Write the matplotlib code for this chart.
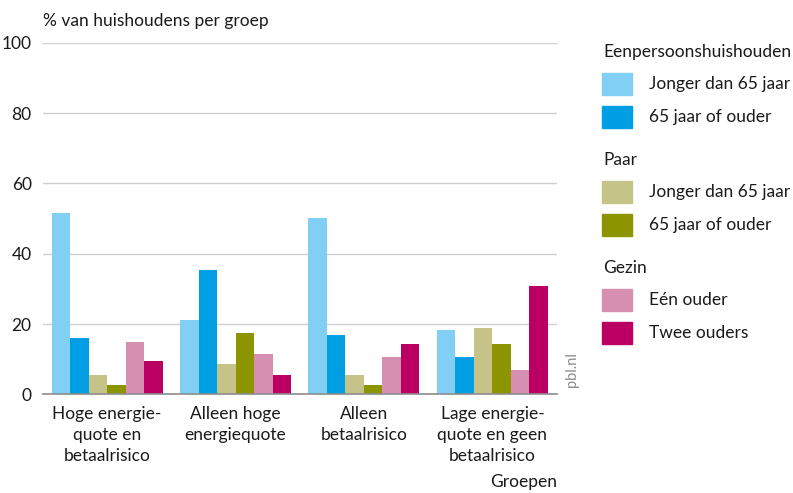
import matplotlib.pyplot as plt
from matplotlib.patches import Rectangle
import numpy as np

plt.rcParams['font.family'] = ['Lato', 'DejaVu Sans']

# Data
groups = ['Hoge energie-\nquote en\nbetaalrisico', 'Alleen hoge\nenergiequote',
          'Alleen\nbetaalrisico', 'Lage energie-\nquote en geen\nbetaalrisico']
series_labels = ['Jonger dan 65 jaar', '65 jaar of ouder',
                 'Jonger dan 65 jaar', '65 jaar of ouder',
                 'Eén ouder', 'Twee ouders']
headers = ['Eenpersoonshuishouden', 'Paar', 'Gezin']
colors = ['#82cff5', '#009fe3', '#c5c388', '#8c9400', '#d68fb0', '#bb0064']

een_jong = [51.5, 21.2, 50.1, 18.4]
een_oud = [16.1, 35.5, 16.9, 10.7]
paar_jong = [5.5, 8.7, 5.5, 19.0]
paar_oud = [2.7, 17.5, 2.7, 14.4]
gezin_een = [14.9, 11.5, 10.7, 6.9]
gezin_twee = [9.5, 5.5, 14.4, 30.9]
values = [een_jong, een_oud, paar_jong, paar_oud, gezin_een, gezin_twee]

fs = 12.5
txt = '#1a1a1a'

fig = plt.figure(figsize=(7.93, 4.93), dpi=100)
ax = fig.add_axes([0.054, 0.2, 0.648, 0.713])

x = np.arange(len(groups))
w = 0.144
for i, vals in enumerate(values):
    ax.bar(x + (i - 2.5) * w, vals, width=w, color=colors[i], zorder=3)

ax.set_xlim(-0.5, 3.5)
ax.set_ylim(0, 100)
ax.set_yticks(range(0, 101, 20))
ax.set_xticks(x)
ax.set_xticklabels(groups, fontsize=fs, color=txt, linespacing=1.42)
ax.tick_params(axis='both', length=0, labelsize=fs, colors=txt)
ax.tick_params(axis='x', pad=8)
ax.tick_params(axis='y', pad=8)
ax.grid(axis='y', color='#d0d0d0', linewidth=1, zorder=0)
for s in ['top', 'right', 'left']:
    ax.spines[s].set_visible(False)
ax.spines['bottom'].set_color('#8c8c8c')
ax.spines['bottom'].set_linewidth(1.2)
ax.spines['bottom'].set_zorder(4)

fig.text(0.054, 0.957, '% van huishoudens per groep', fontsize=fs,
         color=txt, ha='left', va='center')
fig.text(0.702, 0.022, 'Groepen', fontsize=fs, color=txt,
         ha='right', va='center')
fig.text(0.7215, 0.25, 'pbl.nl', fontsize=10.5, color='#8c8c8c',
         rotation=90, ha='center', va='center')

# manual grouped legend
W, H = 793, 493
y = 52
for g in range(3):
    fig.text(603 / W, 1 - y / H, headers[g], fontsize=fs, color=txt,
             ha='left', va='center')
    y += 32
    for k in range(2):
        i = g * 2 + k
        fig.patches.append(Rectangle((602 / W, 1 - (y + 11) / H), 30 / W, 22 / H,
                                     transform=fig.transFigure, color=colors[i]))
        fig.text(649 / W, 1 - y / H, series_labels[i], fontsize=fs,
                 color=txt, ha='left', va='center')
        y += 33
    y += 10

fig.savefig('out.png', dpi=100)
